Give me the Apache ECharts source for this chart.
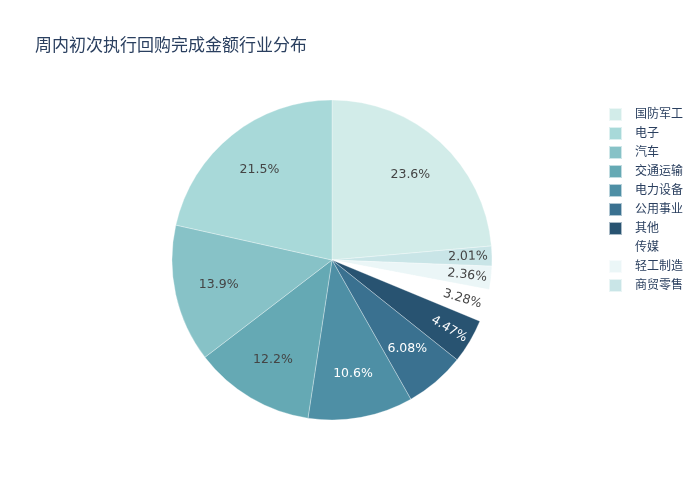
<!DOCTYPE html>
<html>
<head>
<meta charset="utf-8">
<script src="https://cdn.jsdelivr.net/npm/echarts@6/dist/echarts.min.js"></script>
<style>html,body{margin:0;padding:0;background:#fff}#c{width:700px;height:500px}</style>
</head>
<body>
<div id="c"></div>
<script>
// Data (clockwise order from 12 o'clock)
const categories = ['国防军工','商贸零售','轻工制造','传媒','其他','公用事业','电力设备','交通运输','汽车','电子'];
const values = [23.6, 2.01, 2.36, 3.28, 4.47, 6.08, 10.6, 12.2, 13.9, 21.5];
// Legend order
const legendOrder = ['国防军工','电子','汽车','交通运输','电力设备','公用事业','其他','传媒','轻工制造','商贸零售'];
const titleText = '周内初次执行回购完成金额行业分布';

// Styling
const colorByName = {
  '国防军工':'#d2ece9','电子':'#a8d9d9','汽车':'#87c2c7','交通运输':'#65a9b4',
  '电力设备':'#4e8fa5','公用事业':'#3a7190','其他':'#285371','传媒':'#ffffff',
  '轻工制造':'#ebf6f7','商贸零售':'#c9e5e7'
};
const FONT = 'DejaVu Sans, "Noto Sans CJK SC", sans-serif';
const CENTER = [332, 260];
const R = 160;
const SMALL = 5;

function isDark(hex){
  const n = parseInt(hex.slice(1),16);
  const r=(n>>16)&255,g=(n>>8)&255,b=n&255;
  return (0.299*r+0.587*g+0.114*b) < 130;
}
const fmt = p => Number(p.percent).toPrecision(3) + '%';

const mainData = categories.map((name,i)=>({name, value: values[i], itemStyle:{color: colorByName[name]}}));

function labelData(showSmall){
  return categories.map((name,i)=>{
    const small = values[i] < SMALL;
    return {
      name, value: values[i],
      itemStyle:{color:'rgba(0,0,0,0)'},
      label:{
        show: showSmall ? small : !small,
        color: isDark(colorByName[name]) ? '#ffffff' : '#444444'
      }
    };
  });
}

const overlayBase = {
  type:'pie', center: CENTER, clockwise:true, startAngle:90,
  silent:true, avoidLabelOverlap:false, legendHoverLink:false,
  labelLine:{show:false}, emphasis:{disabled:true}, tooltip:{show:false},
  z: 5
};

const option = {
  animation:false,
  title:{ text: titleText, left: 35, top: 38, padding: 0,
    textStyle:{ fontFamily: FONT, fontSize: 17, fontWeight:'normal', color:'#2a3f5f' } },
  legend:{
    orient:'vertical', left: 608, top: 107, padding: 0,
    data: legendOrder,
    itemWidth: 13, itemHeight: 13, itemGap: 4,
    icon:'rect',
    textStyle:{ fontFamily: FONT, fontSize: 12, lineHeight: 13, color:'#2a3f5f', padding:[0,0,0,8] }
  },
  series:[
    {
      type:'pie', center: CENTER, radius:[0, R], clockwise:true, startAngle:90,
      data: mainData, label:{show:false}, labelLine:{show:false},
      avoidLabelOverlap:false,
      itemStyle:{ borderColor:'rgba(255,255,255,0.6)', borderWidth:0.5 },
      emphasis:{ scale:false }
    },
    Object.assign({}, overlayBase, {
      radius:[66, R],
      data: labelData(false),
      label:{ position:'inside', formatter: fmt, fontFamily: FONT, fontSize: 12.5 }
    }),
    Object.assign({}, overlayBase, {
      radius:[106, R],
      data: labelData(true),
      label:{ position:'inside', rotate:'radial', formatter: fmt, fontFamily: FONT, fontSize: 12.5 }
    })
  ]
};

const chart = echarts.init(document.getElementById('c'), null, {renderer:'canvas'});
chart.setOption(option);
</script>
</body>
</html>
